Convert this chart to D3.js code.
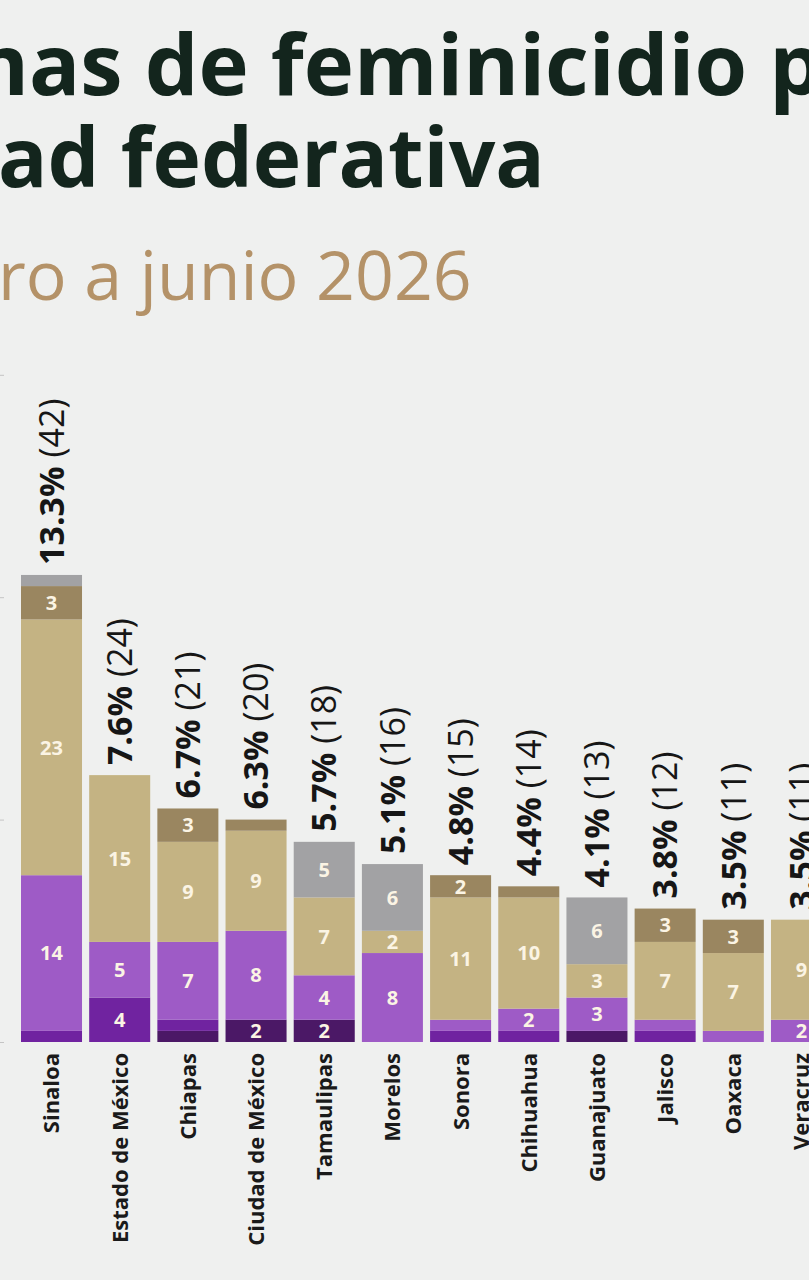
<!DOCTYPE html>
<html lang="es">
<head>
<meta charset="UTF-8">
<title>Víctimas de feminicidio por entidad federativa</title>
<script src="https://cdn.jsdelivr.net/npm/d3@7"></script>
<style>
    html, body { margin: 0; padding: 0; background: #eff0ef; }
    svg { display: block; font-family: "Open Sans", "Noto Sans", sans-serif; }
</style>
</head>
<body>
<svg width="809" height="1280"></svg>
<script>
    // entidades y totales
    var states = ["Sinaloa", "Estado de México", "Chiapas", "Ciudad de México", "Tamaulipas", "Morelos",
        "Sonora", "Chihuahua", "Guanajuato", "Jalisco", "Oaxaca", "Veracruz"];
    var pct = ["13.3%", "7.6%", "6.7%", "6.3%", "5.7%", "5.1%", "4.8%", "4.4%", "4.1%", "3.8%", "3.5%", "3.5%"];
    var totals = [42, 24, 21, 20, 18, 16, 15, 14, 13, 12, 11, 11];

    // segmentos, de abajo hacia arriba
    var segDarkest = [0, 0, 1, 2, 2, 0, 0, 0, 1, 0, 0, 0];
    var segDark    = [1, 4, 1, 0, 0, 0, 1, 1, 0, 1, 0, 0];
    var segPurple  = [14, 5, 7, 8, 4, 8, 1, 2, 3, 1, 1, 2];
    var segTan     = [23, 15, 9, 9, 7, 2, 11, 10, 3, 7, 7, 9];
    var segBrown   = [3, 0, 3, 1, 0, 0, 2, 1, 0, 3, 3, 0];
    var segGray    = [1, 0, 0, 0, 5, 6, 0, 0, 6, 0, 0, 0];

    var yTicks = [0, 20, 40, 60];

    var keys = ["darkest", "dark", "purple", "tan", "brown", "gray"];
    var series = [segDarkest, segDark, segPurple, segTan, segBrown, segGray];
    var color = d3.scaleOrdinal()
        .domain(keys)
        .range(["#4b1866", "#7023a0", "#9e5bc6", "#c4b383", "#9a8660", "#a2a2a4"]);

    var rows = states.map(function (s, i) {
        var r = { state: s, pct: pct[i], total: totals[i] };
        keys.forEach(function (k, j) { r[k] = series[j][i]; });
        return r;
    });

    var svg = d3.select("svg");
    var baseY = 1042;

    var x = d3.scaleBand()
        .domain(states)
        .range([21, 832])
        .paddingInner(0.105)
        .paddingOuter(0);

    var y = d3.scaleLinear()
        .domain([0, 60])
        .range([baseY, baseY - 60 * 11.12]);

    // titulo (recortado por el borde, como en la imagen)
    function measure(str, size, weight) {
        var t = svg.append("text")
            .style("font-size", size + "px")
            .style("font-weight", weight)
            .style("white-space", "pre")
            .text(str);
        var w = t.node().getComputedTextLength();
        t.remove();
        return w;
    }

    var titleSize1 = 85, titleSize2 = 82;
    svg.append("text")
        .attr("x", 29 - measure("Víctim", titleSize1, 700))
        .attr("y", 95)
        .style("font-size", titleSize1 + "px")
        .style("font-weight", 700)
        .attr("fill", "#13251d")
        .text("Víctimas de feminicidio por");

    svg.append("text")
        .attr("x", -2 - measure("entid", titleSize2, 700))
        .attr("y", 187)
        .style("font-size", titleSize2 + "px")
        .style("font-weight", 700)
        .attr("fill", "#13251d")
        .text("entidad federativa");

    var subSize = 68;
    svg.append("text")
        .attr("x", -2 - measure("Ene", subSize, 400))
        .attr("y", 300)
        .style("font-size", subSize + "px")
        .style("font-weight", 400)
        .attr("fill", "#b49268")
        .text("Enero a junio 2026");

    // eje y (solo quedan visibles las marcas)
    var yAxis = svg.append("g")
        .attr("transform", "translate(4,0)")
        .call(d3.axisLeft(y).tickValues(yTicks).tickSize(4));
    yAxis.select(".domain").remove();
    yAxis.selectAll("line").attr("stroke", "#c4c4c4");
    yAxis.selectAll("text").attr("fill", "#666").style("font-size", "16px");

    var stacked = d3.stack().keys(keys)(rows);

    var layer = svg.append("g").selectAll("g")
        .data(stacked)
        .enter().append("g")
        .attr("fill", function (d) { return color(d.key); });

    layer.selectAll("rect")
        .data(function (d) { return d; })
        .enter().append("rect")
        .attr("x", function (d) { return x(d.data.state); })
        .attr("y", function (d) { return y(d[1]); })
        .attr("width", x.bandwidth())
        .attr("height", function (d) { return y(d[0]) - y(d[1]); });

    // numeros dentro de los segmentos
    layer.selectAll("text")
        .data(function (d) { return d.filter(function (v) { return v[1] - v[0] >= 2; }); })
        .enter().append("text")
        .attr("x", function (d) { return x(d.data.state) + x.bandwidth() / 2; })
        .attr("y", function (d) { return (y(d[0]) + y(d[1])) / 2; })
        .attr("dy", "0.36em")
        .attr("text-anchor", "middle")
        .style("font-size", "20px")
        .style("font-weight", 700)
        .attr("fill", "#fbf4e4")
        .text(function (d) { return d[1] - d[0]; });

    // porcentaje y total sobre cada barra
    var valueLabels = svg.append("g").selectAll("text")
        .data(rows)
        .enter().append("text")
        .attr("transform", function (d) {
            return "translate(" + (x(d.state) + x.bandwidth() / 2) + "," + (y(d.total) - 10) + ") rotate(-90)";
        })
        .attr("dy", "0.36em")
        .attr("text-anchor", "start")
        .style("font-size", "34px")
        .attr("fill", "#161616");
    valueLabels.append("tspan").style("font-weight", 700).text(function (d) { return d.pct; });
    valueLabels.append("tspan").style("font-weight", 400).style("white-space", "pre")
        .text(function (d) { return " (" + d.total + ")"; });

    // nombres de las entidades
    svg.append("g").selectAll("text")
        .data(rows)
        .enter().append("text")
        .attr("transform", function (d) {
            return "translate(" + (x(d.state) + x.bandwidth() / 2) + "," + (baseY + 11) + ") rotate(-90)";
        })
        .attr("dy", "0.36em")
        .attr("text-anchor", "end")
        .style("font-size", "22px")
        .style("font-weight", 700)
        .attr("fill", "#1a1a1a")
        .text(function (d) { return d.state; });
</script>
</body>
</html>
